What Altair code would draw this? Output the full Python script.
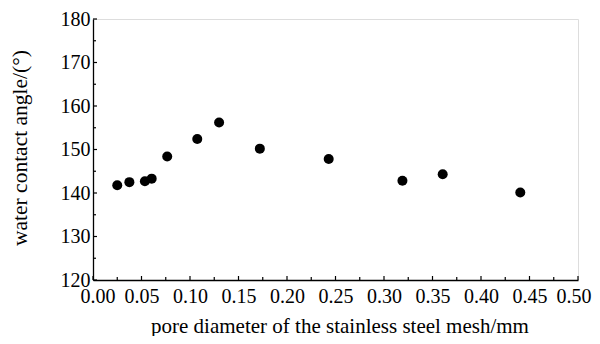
import altair as alt
import pandas as pd

pore_diameter = [0.025, 0.0375, 0.0535, 0.0605, 0.0765, 0.1075, 0.130, 0.172, 0.243, 0.319, 0.3605, 0.4405]
contact_angle = [141.8, 142.5, 142.7, 143.3, 148.4, 152.4, 156.2, 150.2, 147.8, 142.8, 144.3, 140.1]

x_major = [0.00, 0.05, 0.10, 0.15, 0.20, 0.25, 0.30, 0.35, 0.40, 0.45, 0.50]
x_minor = [0.025, 0.075, 0.125, 0.175, 0.225, 0.275, 0.325, 0.375, 0.425, 0.475]
y_major = [120, 130, 140, 150, 160, 170, 180]
y_minor = [125, 135, 145, 155, 165, 175]

W, H = 485, 261
FONT = "Liberation Serif"

df = pd.DataFrame({"d": pore_diameter, "a": contact_angle})

xs = alt.Scale(domain=[0, 0.5], nice=False, zero=False)
ys = alt.Scale(domain=[120, 180], nice=False, zero=False)

points = alt.Chart(df).mark_circle(color="black", opacity=1, size=100).encode(
    x=alt.X("d:Q", scale=xs,
            axis=alt.Axis(title="pore diameter of the stainless steel mesh/mm",
                          values=x_major, format=".2f", ticks=False, grid=False,
                          domainColor="black", domainWidth=1.3,
                          labelFont=FONT, labelFontSize=20, labelColor="black",
                          labelPadding=6, labelFlush=True, labelFlushOffset=13,
                          titleFont=FONT, titleFontSize=21, titleFontWeight="normal",
                          titleColor="black", titleBaseline="alphabetic",
                          titleY=52, titleX=W / 2 + 4)),
    y=alt.Y("a:Q", scale=ys,
            axis=alt.Axis(title="water contact angle/(°)",
                          values=y_major, ticks=False, grid=False,
                          domainColor="black", domainWidth=1.3,
                          labelFont=FONT, labelFontSize=20, labelColor="black",
                          labelPadding=3, labelFlush=False,
                          titleFont=FONT, titleFontSize=21.5, titleFontWeight="normal",
                          titleColor="black", titleBaseline="middle",
                          titleX=-73, titleY=H / 2 - 2)),
)

xmaj = alt.Chart(pd.DataFrame({"v": x_major})).mark_rule(color="black", strokeWidth=1.2).encode(
    x=alt.X("v:Q", scale=xs), y=alt.value(H), y2=alt.value(H - 4))
xmin = alt.Chart(pd.DataFrame({"v": x_minor})).mark_rule(color="black", strokeWidth=1.2).encode(
    x=alt.X("v:Q", scale=xs), y=alt.value(H), y2=alt.value(H - 3))
ymaj = alt.Chart(pd.DataFrame({"v": y_major})).mark_rule(color="black", strokeWidth=1.2).encode(
    y=alt.Y("v:Q", scale=ys), x=alt.value(0), x2=alt.value(4))
ymin = alt.Chart(pd.DataFrame({"v": y_minor})).mark_rule(color="black", strokeWidth=1.2).encode(
    y=alt.Y("v:Q", scale=ys), x=alt.value(0), x2=alt.value(3))

chart = alt.layer(points, xmaj, xmin, ymaj, ymin).properties(
    width=W, height=H,
    autosize=alt.AutoSizeParams(type="none"),
    padding={"left": 85, "top": 11, "right": 14, "bottom": 56},
).configure_view(stroke=None).configure(background="white")

chart.save("out.html", embed_options={"renderer": "svg", "actions": False})
